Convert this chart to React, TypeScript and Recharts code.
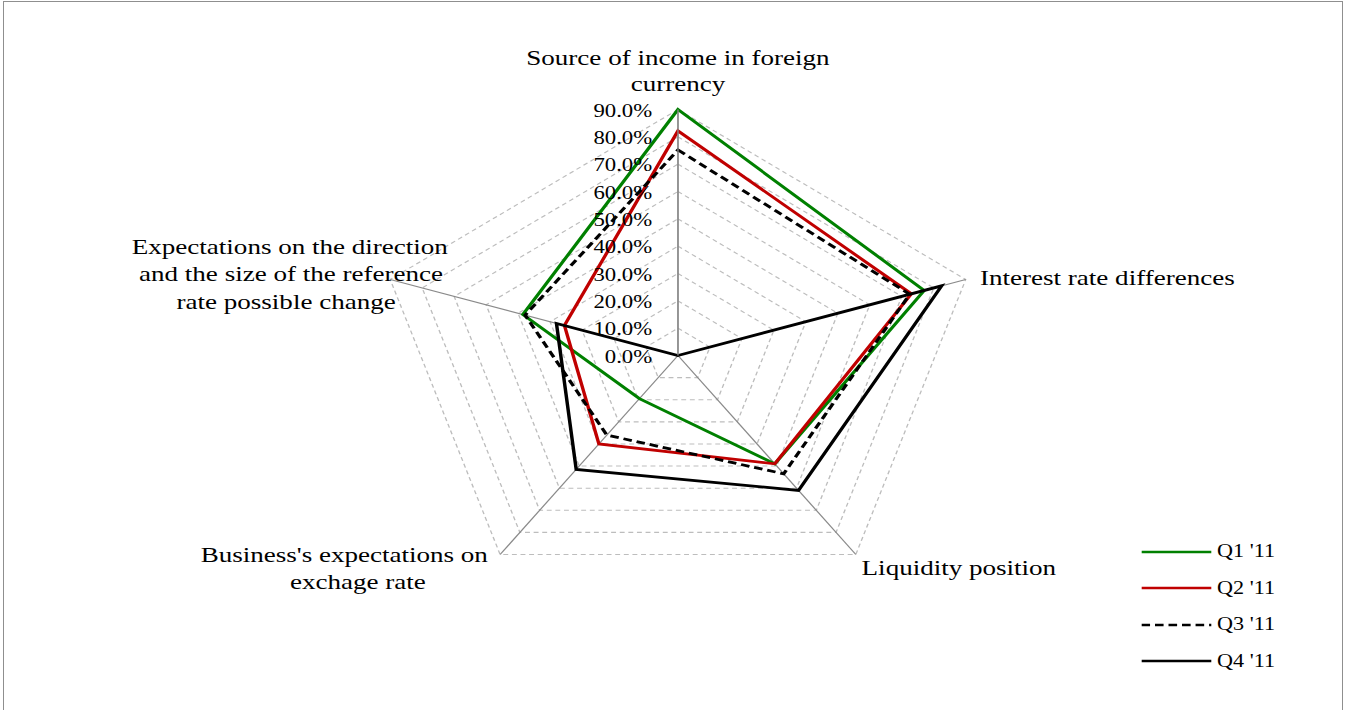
import { RadarChart, Radar, PolarGrid, PolarAngleAxis, PolarRadiusAxis, Legend } from 'recharts';

// axis categories (clockwise from the top), "\n" marks a line break in the label
const categories = [
	"Source of income in foreign\ncurrency",
	"Interest rate differences",
	"Liquidity position",
	"Business's expectations on\nexchage rate",
	"Expectations on the direction\nand the size of the reference\nrate possible change",
];

// values in percent
const q1 = [90, 77, 49, 19.5, 48.5];
const q2 = [82.2, 73, 49, 40, 35.5];
const q3 = [75.2, 72.5, 53.5, 36, 47.8];
const q4 = [0, 82.5, 61, 51.5, 38];

const radiusTicks = [0, 10, 20, 30, 40, 50, 60, 70, 80, 90];

const series = [
	{ key: "q1", name: "Q1 '11", color: "#008000", dash: undefined },
	{ key: "q2", name: "Q2 '11", color: "#c00000", dash: undefined },
	{ key: "q3", name: "Q3 '11", color: "#000000", dash: "7 4" },
	{ key: "q4", name: "Q4 '11", color: "#000000", dash: undefined },
];

const rows = categories.map((c, i) => ({ category: c, q1: q1[i], q2: q2[i], q3: q3[i], q4: q4[i] }));

// the original picture is stretched horizontally
const SX = 1.23;
const W0 = 1345 / SX;
const FONT = "'Liberation Serif', 'Times New Roman', serif";

// label placement per axis, offsets from the tick point
const labelPos = [
	{ anchor: "middle", dx: [0, 0], dy: [-36.5, -10.5] },
	{ anchor: "start", dx: [4], dy: [8] },
	{ anchor: "start", dx: [0], dy: [14] },
	{ anchor: "middle", dx: [-122, -111], dy: [1, 28] },
	{ anchor: "middle", dx: [-74, -73, -77], dy: [-23, 4, 32] },
];

const AngleTick = (props: any) => {
	const { x, y, payload, index } = props;
	const pos = labelPos[index] || labelPos[0];
	const lines = String(payload.value).split("\n");
	return (
		<g>
			{lines.map((l, i) => (
				<text key={i} x={x + pos.dx[i]} y={y + pos.dy[i]} textAnchor={pos.anchor} fontSize={22} fontFamily={FONT} fill="#000">
					{l}
				</text>
			))}
		</g>
	);
};

const RadiusTick = (props: any) => {
	const { x, y, payload } = props;
	return (
		<text x={x - 21} y={y + 1} textAnchor="end" dominantBaseline="central" fontSize={18.5} fontFamily={FONT} fill="#000">
			{Number(payload.value).toFixed(1)}%
		</text>
	);
};

const renderLegend = () => (
	<div style={{ fontFamily: FONT, fontSize: 18, color: "#000" }}>
		{series.map(s => (
			<div key={s.key} style={{ display: "flex", alignItems: "center", height: 36.5 }}>
				<svg width={57} height={10} style={{ marginRight: 4.5 }}>
					<line x1={0} y1={5} x2={57} y2={5} stroke={s.color} strokeWidth={2.6} strokeDasharray={s.dash} />
				</svg>
				<span>{s.name}</span>
			</div>
		))}
	</div>
);

export default function App() {
	return (
		<div style={{ position: "fixed", left: 0, top: 0, width: 1345, height: 710, background: "#fff", overflow: "hidden" }}>
			<div style={{ position: "absolute", left: 3, top: 1, width: 1340, height: 760, boxSizing: "border-box", border: "1.5px solid #8f8f8f" }} />
			<div style={{ position: "absolute", left: 0, top: 0, width: W0, height: 710, transform: `scaleX(${SX})`, transformOrigin: "0 0" }}>
				<RadarChart width={W0} height={710} data={rows} cx={551.2} cy={355.5} outerRadius={246} margin={{ top: 0, right: 0, bottom: 0, left: 0 }}>
					<PolarGrid gridType="polygon" radialLines={false} stroke="#bdbdbd" strokeWidth={1.1} strokeDasharray="4 3" />
					<PolarGrid gridType="polygon" polarRadius={[0]} stroke="#8a8a8a" strokeWidth={1.1} />
					<PolarAngleAxis dataKey="category" tick={AngleTick} tickLine={false} axisLine={false} />
					<PolarRadiusAxis angle={90} type="number" scale="linear" domain={[0, 90]} allowDataOverflow tickCount={10} ticks={radiusTicks} tick={RadiusTick} tickLine={false} axisLine={{ stroke: "#8a8a8a", strokeWidth: 1.1 }} />
					{series.map(s => (
						<Radar key={s.key} name={s.name} dataKey={s.key} stroke={s.color} strokeWidth={2.8} strokeDasharray={s.dash} fill="none" fillOpacity={0} dot={false} isAnimationActive={false} />
					))}
					<Legend layout="vertical" align="right" verticalAlign="middle" content={renderLegend} wrapperStyle={{ position: "absolute", left: 928, top: 533.5, width: 160 }} />
				</RadarChart>
			</div>
		</div>
	);
}
